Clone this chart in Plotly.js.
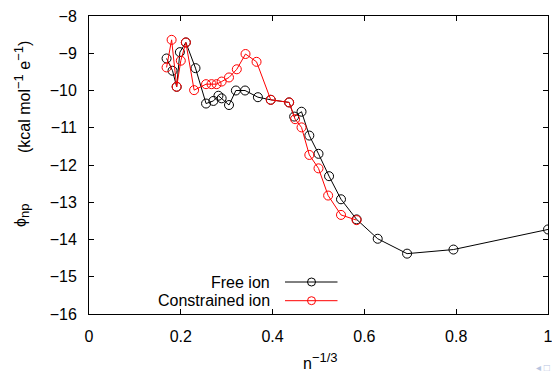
<!DOCTYPE html>
<html><head><meta charset="utf-8">
<script src="https://cdn.plot.ly/plotly-3.0.1.min.js"></script>
<style>html,body{margin:0;padding:0;background:#fff;}#chart{width:552px;height:372px;}</style>
</head><body><div id="chart"></div>
<script>
const freeX = [0.169, 0.182, 0.191, 0.198, 0.211, 0.232, 0.255, 0.271, 0.282, 0.289, 0.305, 0.320, 0.340, 0.368, 0.396, 0.436, 0.447, 0.463, 0.480, 0.500, 0.523, 0.549, 0.583, 0.629, 0.693, 0.794, 1.0];
const freeY = [-9.14, -9.47, -9.90, -8.97, -8.71, -9.40, -10.35, -10.28, -10.14, -10.21, -10.39, -10.00, -10.00, -10.18, -10.25, -10.32, -10.70, -10.57, -11.21, -11.70, -12.30, -12.92, -13.46, -13.98, -14.38, -14.27, -13.73];
const consX = [0.169, 0.180, 0.191, 0.200, 0.211, 0.229, 0.255, 0.267, 0.278, 0.289, 0.305, 0.322, 0.341, 0.365, 0.396, 0.436, 0.449, 0.463, 0.480, 0.500, 0.521, 0.549, 0.583];
const consY = [-9.38, -8.64, -9.90, -9.20, -8.71, -9.99, -9.83, -9.83, -9.83, -9.76, -9.65, -9.43, -9.02, -9.23, -10.25, -10.32, -10.77, -10.99, -11.73, -12.09, -12.82, -13.34, -13.48];
const seriesNames = ["Free ion", "Constrained ion"];
const xTicks = [0, 0.2, 0.4, 0.6, 0.8, 1];
const xTickText = ["0", "0.2", "0.4", "0.6", "0.8", "1"];
const yTicks = [-16, -15, -14, -13, -12, -11, -10, -9, -8];
const yTickText = ["\u221216", "\u221215", "\u221214", "\u221213", "\u221212", "\u221211", "\u221210", "\u22129", "\u22128"];

const FONT = "Liberation Sans, Arial, sans-serif";
const colors = ["#000000", "#ff0000"];

const traces = [
  {x: freeX, y: freeY, name: seriesNames[0], mode: "lines+markers", showlegend: false,
   line: {color: colors[0], width: 1},
   marker: {symbol: "circle-open", size: 9, color: colors[0], line: {width: 1, color: colors[0]}}},
  {x: consX, y: consY, name: seriesNames[1], mode: "lines+markers", showlegend: false,
   line: {color: colors[1], width: 1},
   marker: {symbol: "circle-open", size: 9, color: colors[1], line: {width: 1, color: colors[1]}}}
];

const py = v => (314 - v) / 298;
const px = v => (v - 89) / 459;
const legY = [py(282), py(300.7)];
const shapes = [];
const annotations = [];
const S = t => "<span style='font-size:13px'>" + t + "</span>";
seriesNames.forEach((nm, i) => {
  annotations.push({xref: "paper", yref: "paper", x: px(272), y: legY[i], xanchor: "right", yanchor: "middle",
    text: nm, showarrow: false, font: {family: FONT, size: 16, color: "#000"}});
  shapes.push({type: "line", xref: "paper", yref: "paper", x0: px(285), x1: px(337.5), y0: legY[i], y1: legY[i],
    line: {color: colors[i], width: 1}});
  shapes.push({type: "circle", xref: "paper", yref: "paper", xsizemode: "pixel", ysizemode: "pixel",
    xanchor: px(311.5), yanchor: legY[i], x0: -4, x1: 4, y0: -4, y1: 4,
    line: {color: colors[i], width: 1}, fillcolor: "rgba(0,0,0,0)"});
});
annotations.push({xref: "paper", yref: "paper", x: px(22), y: py(97), xanchor: "center", yanchor: "middle",
  textangle: -90, showarrow: false, text: "(kcal mol<sup>" + S("\u22121") + "</sup> e<sup>" + S("\u22121") + "</sup>)",
  font: {family: FONT, size: 16, color: "#000"}});
annotations.push({xref: "paper", yref: "paper", x: px(22), y: py(216), xanchor: "center", yanchor: "middle",
  textangle: -90, showarrow: false, text: "\u03d5<sub>" + S("np") + "</sub>",
  font: {family: FONT, size: 16, color: "#000"}});
annotations.push({xref: "paper", yref: "paper", x: px(320), y: py(361), xanchor: "center", yanchor: "middle",
  showarrow: false, text: "n<sup>" + S("\u22121/3") + "</sup>", font: {family: FONT, size: 16, color: "#000"}});
annotations.push({xref: "paper", yref: "paper", x: 1.008, y: py(367), xanchor: "right", yanchor: "middle",
  showarrow: false, text: "\u25c2 \u25a1", font: {family: FONT, size: 10, color: "#b8c4e0"}});

const layout = {
  width: 552, height: 372,
  margin: {l: 89, r: 4, t: 16, b: 58},
  paper_bgcolor: "#fff", plot_bgcolor: "#fff",
  font: {family: FONT, size: 16, color: "#000"},
  showlegend: false,
  xaxis: {range: [0, 1], tickvals: xTicks, ticktext: xTickText, ticks: "inside", ticklen: 5, tickcolor: "#000",
    showline: true, linecolor: "#000", linewidth: 1, mirror: "ticks", showgrid: false, zeroline: false,
    ticklabelstandoff: 8, ticklabeloverflow: "allow", tickfont: {family: FONT, size: 16, color: "#000"}},
  yaxis: {range: [-16, -8], tickvals: yTicks, ticktext: yTickText, ticks: "inside", ticklen: 5, tickcolor: "#000",
    showline: true, linecolor: "#000", linewidth: 1, mirror: "ticks", showgrid: false, zeroline: false,
    ticklabelstandoff: 8, ticklabeloverflow: "allow", tickfont: {family: FONT, size: 16, color: "#000"}},
  shapes: shapes,
  annotations: annotations
};
Plotly.newPlot("chart", traces, layout, {displayModeBar: false, staticPlot: true});
</script>
</body></html>
